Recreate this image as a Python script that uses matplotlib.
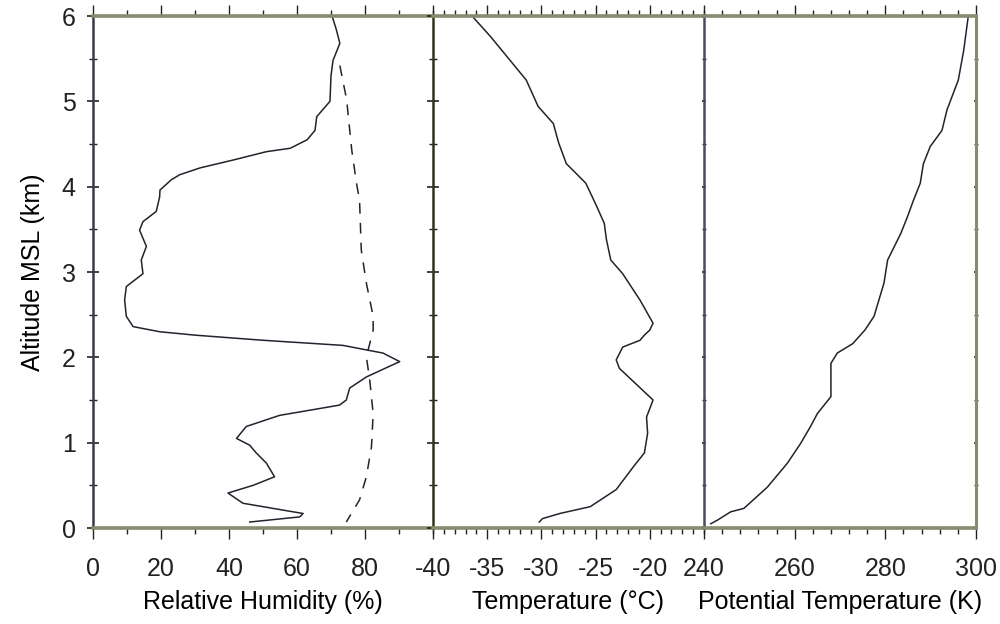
import matplotlib
matplotlib.use("Agg")
import matplotlib.pyplot as plt
from matplotlib.ticker import MultipleLocator

plt.rcParams['font.family'] = ['Liberation Sans', 'DejaVu Sans']
plt.rcParams['axes.unicode_minus'] = False

# Relative humidity (solid) profile: RH (%) vs altitude (km)
rh_alt = [6.00, 5.85, 5.68, 5.48, 5.30, 5.00, 4.82, 4.66, 4.55, 4.45, 4.41, 4.31,
          4.22, 4.14, 4.08, 3.96, 3.88, 3.71, 3.59, 3.49, 3.30, 3.14, 2.98, 2.83,
          2.67, 2.48, 2.36, 2.30, 2.26, 2.20, 2.14, 2.05, 1.95, 1.77, 1.64, 1.50,
          1.44, 1.32, 1.19, 1.05, 0.97, 0.88, 0.76, 0.60, 0.50, 0.41, 0.29, 0.19,
          0.17, 0.13, 0.07]
rh_val = [70.3, 71.5, 72.6, 70.6, 70.0, 69.7, 65.8, 65.3, 63.0, 58.0, 51.0, 41.0,
          31.5, 25.5, 23.0, 19.7, 19.6, 18.6, 14.7, 13.7, 15.7, 14.2, 14.7, 9.8,
          9.3, 9.8, 11.8, 19.6, 30.0, 50.0, 73.5, 85.3, 90.2, 80.4, 75.5, 74.5,
          72.5, 54.9, 45.1, 42.2, 46.1, 48.0, 51.0, 53.4, 47.1, 39.7, 44.1, 58.8,
          61.8, 60.8, 46.1]

# Relative humidity (dashed) profile
rhd_alt = [5.42, 5.02, 4.43, 4.04, 3.84, 3.26, 2.87, 2.48, 2.32, 2.16, 2.01,
           1.73, 1.34, 0.95, 0.60, 0.33, 0.07]
rhd_val = [72.6, 74.6, 76.1, 77.5, 78.4, 78.9, 80.4, 82.4, 82.4, 81.4, 80.4,
           81.4, 82.4, 81.9, 80.4, 78.4, 74.5]

# Temperature (deg C)
t_alt = [6.00, 5.76, 5.25, 4.94, 4.74, 4.51, 4.27, 4.04, 3.77, 3.57, 3.38, 3.14,
         2.98, 2.67, 2.40, 2.32, 2.26, 2.20, 2.12, 1.97, 1.87, 1.50, 1.30, 1.11,
         0.88, 0.72, 0.45, 0.25, 0.17, 0.11, 0.07]
t_val = [-36.4, -34.7, -31.4, -30.3, -28.9, -28.4, -27.7, -25.9, -24.9, -24.2,
         -24.0, -23.6, -22.5, -20.9, -19.7, -20.0, -20.5, -20.9, -22.5, -23.1,
         -22.8, -19.7, -20.3, -20.2, -20.5, -21.5, -23.1, -25.5, -28.3, -29.9,
         -30.2]

# Potential temperature (K)
th_alt = [6.00, 5.60, 5.25, 4.90, 4.66, 4.47, 4.27, 4.04, 3.84, 3.65, 3.45, 3.14,
          2.87, 2.48, 2.32, 2.16, 2.05, 1.93, 1.54, 1.34, 1.19, 0.99, 0.76, 0.48,
          0.23, 0.19, 0.09, 0.05]
th_val = [298.3, 297.3, 296.1, 293.6, 292.5, 289.9, 288.4, 287.7, 286.2, 284.9,
          283.4, 280.5, 279.7, 277.5, 275.5, 272.8, 269.4, 268.0, 268.0, 265.0,
          263.5, 261.3, 258.4, 254.0, 248.8, 245.9, 242.9, 241.5]

line_col = '#23232f'
frame_col = '#8a8a6e'
left_cols = ['#3a3a48', '#33331f', '#4a4a66']

fig = plt.figure(figsize=(10, 6.24), dpi=100)
bottom = 96 / 624
height = 512 / 624
ax1 = fig.add_axes([0.093, bottom, 0.340, height])
ax2 = fig.add_axes([0.433, bottom, 0.271, height])
ax3 = fig.add_axes([0.704, bottom, 0.272, height])
axes = [ax1, ax2, ax3]

ax1.plot(rh_val, rh_alt, color=line_col, lw=1.1)
ax1.plot(rhd_val, rhd_alt, color=line_col, lw=1.1, dashes=(7, 6))
ax2.plot(t_val, t_alt, color=line_col, lw=1.1)
ax3.plot(th_val, th_alt, color=line_col, lw=1.1)

ax1.set_xlim(0, 100)
ax2.set_xlim(-40, -15)
ax3.set_xlim(240, 300)
ax1.set_xticks([0, 20, 40, 60, 80])
ax1.xaxis.set_minor_locator(MultipleLocator(10))
ax2.set_xticks([-40, -35, -30, -25, -20])
ax2.xaxis.set_minor_locator(MultipleLocator(1))
ax3.set_xticks([240, 260, 280, 300])
ax3.xaxis.set_minor_locator(MultipleLocator(4))

for i, ax in enumerate(axes):
    ax.set_ylim(0, 6)
    ax.yaxis.set_major_locator(MultipleLocator(1))
    ax.yaxis.set_minor_locator(MultipleLocator(0.5))
    for s in ['top', 'bottom']:
        ax.spines[s].set_color(frame_col)
        ax.spines[s].set_linewidth(2.6)
    ax.spines['left'].set_color(left_cols[i])
    ax.spines['left'].set_linewidth(1.8)
    ax.spines['right'].set_visible(i == 2)
    ax.spines['right'].set_color(frame_col)
    ax.spines['right'].set_linewidth(2.2)
    ax.tick_params(axis='x', which='both', top=True, bottom=True, direction='out',
                   colors='#222222', labelsize=18, pad=13)
    ax.tick_params(axis='x', which='major', length=8, width=1.0)
    ax.tick_params(axis='x', which='minor', length=4, width=1.0)
    ax.tick_params(axis='y', which='both', direction='inout', colors='#222222',
                   labelsize=18, right=(i == 2))
    ax.tick_params(axis='y', which='major', length=9, width=1.2, pad=8)
    ax.tick_params(axis='y', which='minor', length=6, width=1.0)
    if i > 0:
        ax.tick_params(axis='y', labelleft=False)
    if i == 2:
        ax.tick_params(axis='y', which='both', right=True, length=3)

ax1.set_ylabel('Altitude MSL (km)', fontsize=18, labelpad=12)
ax1.set_xlabel('Relative Humidity (%)', fontsize=18, labelpad=6)
ax2.set_xlabel('Temperature (°C)', fontsize=18, labelpad=6)
ax3.set_xlabel('Potential Temperature (K)', fontsize=18, labelpad=6)

fig.savefig('out.png', dpi=100, facecolor='white')
